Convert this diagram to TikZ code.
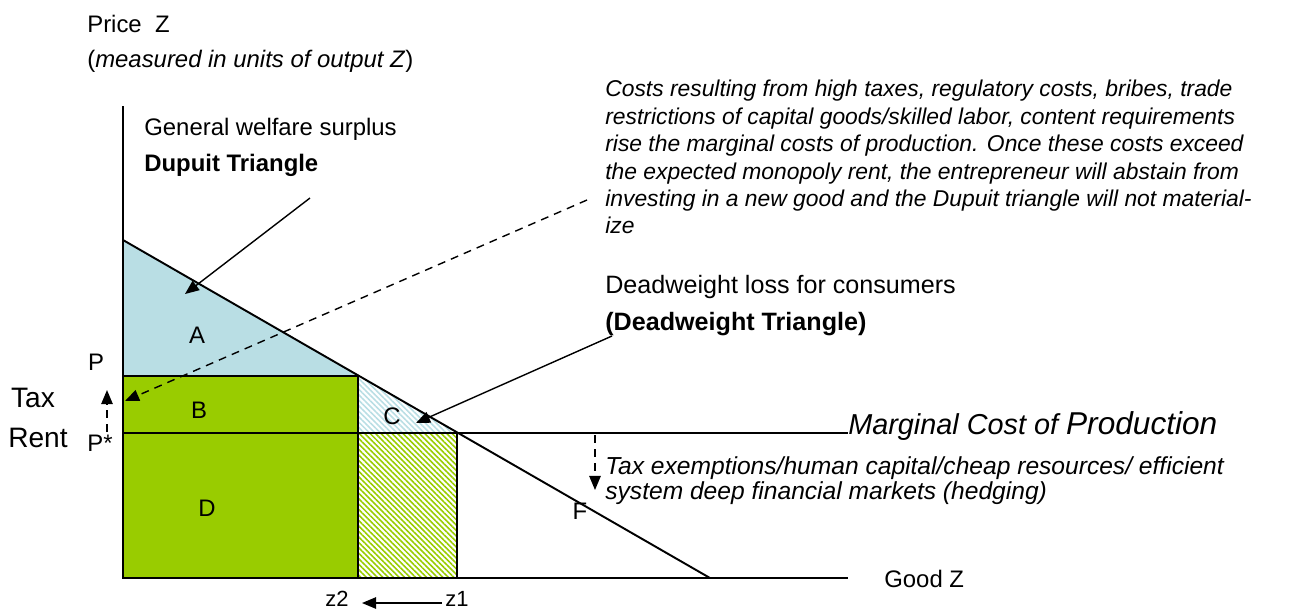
\documentclass[tikz,border=0pt]{standalone}
\usepackage{fontspec}
\setmainfont{Liberation Sans}
\usetikzlibrary{arrows.meta,patterns.meta}
\definecolor{surplusblue}{RGB}{185,222,228}
\definecolor{rentgreen}{RGB}{153,204,0}

\begin{document}
\begin{tikzpicture}[x=0.02cm,y=-0.02cm,
    lbl/.style={font=\fontsize{13.6}{16}\selectfont, inner sep=0pt},
    note/.style={font=\fontsize{13}{15.6}\selectfont\itshape, align=left, inner sep=0pt, anchor=north west},
    tip/.style={-{Triangle[length=8pt,width=6.5pt]}, line width=0.8pt},
    dashtip/.style={tip, dash pattern=on 4.5pt off 3.5pt},
    axis/.style={line width=1.1pt},
    hatch/.style={pattern={Lines[angle=-45,distance=2.2pt,line width=0.9pt]}, pattern color=#1}]
    \useasboundingbox (0,0) rectangle (1295,610);

    \coordinate (O) at (123,578);
    \coordinate (ytop) at (123,106);
    \coordinate (xend) at (848,578);
    \coordinate (dtop) at (123,240);
    \coordinate (dend) at (710,578);
    \coordinate (pl) at (123,376);
    \coordinate (pr) at (358,376);
    \coordinate (ml) at (123,433);
    \coordinate (mm) at (358,433);
    \coordinate (mr) at (457,433);
    \coordinate (mend) at (848,433);
    \coordinate (bm) at (358,578);
    \coordinate (br) at (457,578);

    \fill[surplusblue] (dtop) -- (pr) -- (pl) -- cycle;
    \fill[rentgreen] (pl) rectangle (bm);
    \fill[hatch=surplusblue] (pr) -- (mr) -- (mm) -- cycle;
    \fill[hatch=rentgreen] (mm) rectangle (br);

    \draw[axis] (pl) -- (pr) -- (bm);
    \draw[axis] (ml) -- (mr) -- (br);
    \draw[line width=0.8pt] (mr) -- (mend);
    \draw[axis] (dtop) -- (dend);
    \draw[axis] (ytop) -- (O) -- (xend);

    \node[lbl] (A) at (197,335) {A};
    \node[lbl] (B) at (199,410) {B};
    \node[lbl] (C) at (392,416) {C};
    \node[lbl] (D) at (207,508) {D};
    \node[lbl] (F) at (580,511) {F};

    \node[lbl, anchor=base west] (price) at (87,32) {Price\ \ Z};
    \node[lbl, anchor=base west] (units) at (87,67) {(\textit{measured in units of output Z})};
    \node[lbl, anchor=base west] (welfare) at (144,135) {General welfare surplus};
    \node[lbl, anchor=base west, font=\fontsize{13.6}{16}\selectfont\bfseries] (dupuit) at (144,171) {Dupuit Triangle};
    \node[lbl, anchor=base west, font=\fontsize{14.3}{16}\selectfont] (dwl) at (605,293) {Deadweight loss for consumers};
    \node[lbl, anchor=base west, font=\fontsize{14.3}{16}\selectfont\bfseries] (dwt) at (605,330) {(Deadweight Triangle)};
    \node[lbl, anchor=west] (good) at (884,579) {Good Z};
    \node[lbl] (P) at (96,362) {P};
    \node[lbl] (Pstar) at (100,443) {P*};
    \node[lbl, font=\fontsize{16}{18}\selectfont] (tax) at (33,398) {Tax};
    \node[lbl, font=\fontsize{16}{18}\selectfont] (rent) at (38,438) {Rent};
    \node[lbl, font=\fontsize{12.5}{14}\selectfont] (z2) at (337,599) {z2};
    \node[lbl, font=\fontsize{12.5}{14}\selectfont] (z1) at (457,599) {z1};
    \node[lbl, anchor=west, font=\fontsize{16.4}{20}\selectfont\itshape] (mc) at (848,426)
        {Marginal Cost of {\fontsize{18}{20}\selectfont Production}};

    \node[note] (costs) at (605,80) {Costs resulting from high taxes, regulatory costs, bribes, trade\\
        restrictions of capital goods/skilled labor, content requirements\\
        rise the marginal costs of production. Once these costs exceed\\
        the expected monopoly rent, the entrepreneur will abstain from\\
        investing in a new good and the Dupuit triangle will not material-\\
        ize};
    \node[note, font=\fontsize{14}{14.2}\selectfont\itshape] (exempt) at (605,456) {Tax exemptions/human capital/cheap resources/ efficient\\
        system deep financial markets (hedging)};

    \coordinate (dupuitstart) at (310,198);
    \coordinate (dupuitend) at (185,294);
    \coordinate (coststart) at (587,200);
    \coordinate (costend) at (125,401);
    \coordinate (dwlstart) at (612,336);
    \coordinate (dwlend) at (416,423);
    \coordinate (taxstart) at (107,432);
    \coordinate (taxend) at (107,390);
    \coordinate (mcstart) at (595,435);
    \coordinate (mcend) at (595,490);
    \coordinate (zstart) at (442,603);
    \coordinate (zend) at (362,603);

    \draw[tip] (dupuitstart) -- (dupuitend);
    \draw[dashtip] (coststart) -- (costend);
    \draw[tip] (dwlstart) -- (dwlend);
    \draw[dashtip] (taxstart) -- (taxend);
    \draw[dashtip] (mcstart) -- (mcend);
    \draw[tip] (zstart) -- (zend);
\end{tikzpicture}
\end{document}
